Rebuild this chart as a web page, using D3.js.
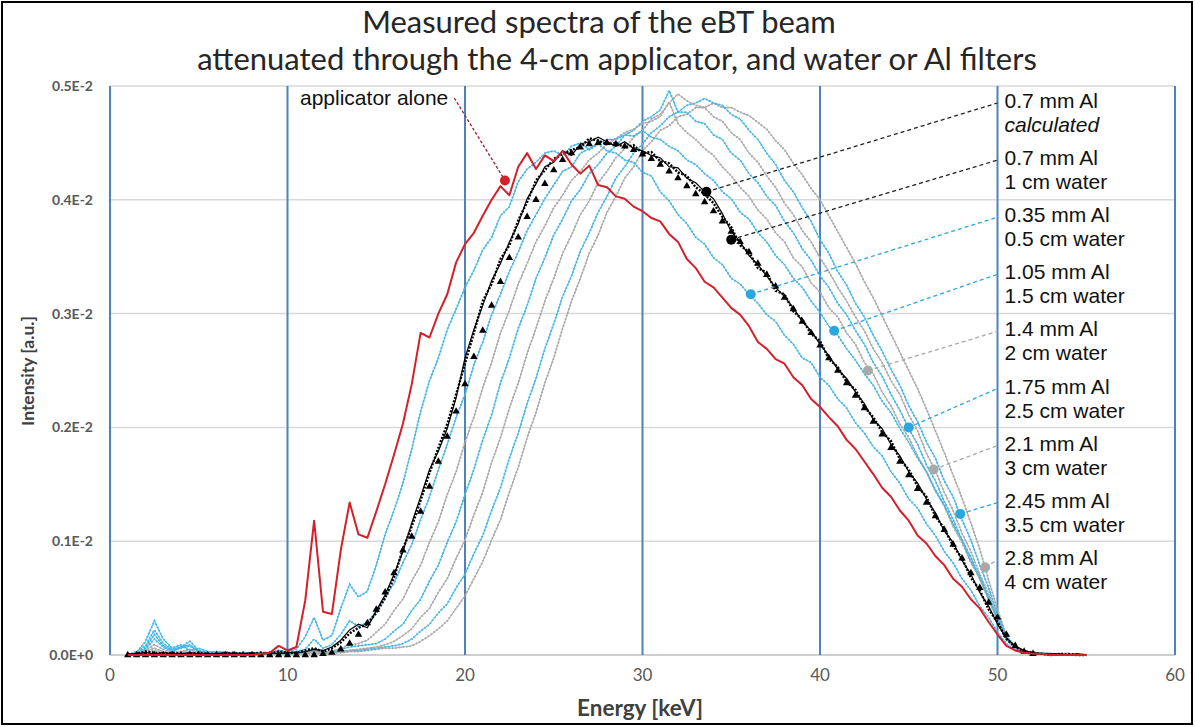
<!DOCTYPE html>
<html><head><meta charset="utf-8">
<script src="https://cdn.jsdelivr.net/npm/d3@7"></script>
<style>body{margin:0;background:#fff}svg{display:block}</style>
</head><body><svg id="c" width="1195" height="727"></svg>
<script>
// ---------- DATA (intensity in units of 1e-5 a.u.) ----------
const energies = [
1,1.5,2,2.5,3,3.5,4,4.5,5,5.5,
6,6.5,7,7.5,8,8.5,9,9.5,10,10.5,
11,11.5,12,12.5,13,13.5,14,14.5,15,15.5,
16,16.5,17,17.5,18,18.5,19,19.5,20,20.5,
21,21.5,22,22.5,23,23.5,24,24.5,25,25.5,
26,26.5,27,27.5,28,28.5,29,29.5,30,30.5,
31,31.5,32,32.5,33,33.5,34,34.5,35,35.5,
36,36.5,37,37.5,38,38.5,39,39.5,40,40.5,
41,41.5,42,42.5,43,43.5,44,44.5,45,45.5,
46,46.5,47,47.5,48,48.5,49,49.5,50,50.5,
51,51.5,52,52.5,53,53.5,54,54.5,55];

const applicatorAlone = [
0,0,0,0,0,0,0,0,0,0,
0,0,0,0,0,1,2,8,4,7,
48,118,38,36,92,134,106,103,126,150,
176,203,238,283,279,300,317,345,361,371,
386,400,412,404,429,441,427,439,434,443,
431,423,430,413,411,403,401,394,390,384,
381,370,363,348,340,328,323,314,305,299,
289,275,269,260,256,244,237,225,218,209,
201,189,181,170,159,147,139,127,118,105,
98,87,79,67,60,49,41,29,18,8,
4,2,1,1,0,0,0,0,0];

const al035 = [
0,2,12,30,14,6,9,4,6,3,
2,3,1,2,1,2,2,4,3,5,
16,33,13,17,41,62,51,56,79,106,
127,151,181,214,241,261,286,304,323,338,
356,367,386,394,416,427,433,441,443,439,
447,450,444,449,443,441,435,433,424,421,
407,399,387,379,367,361,349,343,331,326,
317,309,299,293,281,273,261,257,244,237,
225,217,204,195,183,175,161,151,137,129,
115,105,91,81,67,57,43,33,20,10,
4,2,1,2,1,1,0,1,0];

const al070 = [
1,1,2,1,2,1,1,2,1,1,
1,2,1,1,2,1,2,1,2,2,
3,5,4,7,13,22,27,24,39,53,
71,91,116,139,163,179,199,226,261,286,
307,329,344,363,379,401,414,429,433,443,
439,449,451,455,451,447,451,445,443,439,
437,429,428,419,415,407,401,388,372,363,
351,343,333,323,315,305,293,285,273,263,
251,243,231,221,207,199,185,175,161,151,
137,125,109,99,83,71,55,43,27,15,
8,4,2,1,1,1,0,1,0];

const water10 = [
0,1,3,2,1,2,1,1,2,1,
1,1,2,1,1,2,1,3,2,2,
4,6,3,6,11,19,24,27,37,50,
68,93,113,136,160,182,203,229,256,283,
311,326,348,360,382,398,417,426,436,440,
444,446,454,452,449,450,446,448,441,442,
434,432,424,421,411,405,397,385,376,360,
354,340,336,320,317,302,295,282,276,260,
253,240,233,218,209,196,188,172,163,148,
139,122,111,96,85,68,57,40,29,14,
7,3,2,1,0,1,1,0,0];

const al070calc = [
0,0,0,0,0,0,0,0,0,0,
0,0,0,0,0,0,0,0,0,0,
0,0,1,2,5,10,18,28,40,55,
72,92,104,126,148,170,192,214,238,262,
285,307,328,349,367,385,400,414,426,435,
441,446,449,450,450,449,447,444,440,436,
431,425,419,412,405,398,390,381,372,363,
354,344,334,324,314,304,293,283,272,261,
250,239,228,217,205,194,182,170,158,146,
134,122,110,97,85,72,59,46,33,18,
8,3,1];

const al105 = [
0,3,8,22,10,5,7,12,4,2,
3,2,1,2,2,1,2,3,2,3,
5,14,6,9,18,30,25,29,38,51,
63,81,97,119,139,163,185,209,229,255,
275,299,317,337,354,373,387,401,413,425,
429,441,445,449,453,453,457,456,461,455,
453,447,443,435,431,423,417,407,401,389,
383,371,363,351,343,331,323,311,301,289,
281,269,259,247,237,223,213,199,187,173,
161,145,132,115,101,83,69,50,32,15,
7,3,2,1,1,0,1,0,0];

const al140 = [
0,1,4,9,5,2,3,5,2,1,
1,2,1,1,1,2,1,2,1,2,
2,4,2,3,6,9,10,13,20,27,
39,49,65,79,99,117,141,161,187,209,
235,257,283,303,326,344,363,377,393,404,
417,425,435,441,449,454,459,462,467,469,
473,486,467,459,453,445,439,429,421,411,
403,391,383,371,363,349,341,327,319,305,
297,283,273,257,247,231,219,203,191,175,
161,144,131,113,99,81,67,48,31,14,
6,3,1,1,0,1,0,0,0];

const al175 = [
0,2,5,14,7,3,6,8,3,2,
2,1,2,1,2,1,1,2,1,2,
2,5,2,3,5,7,8,9,10,14,
21,27,39,49,65,79,99,117,141,163,
189,211,239,261,287,307,331,349,369,383,
399,409,423,431,441,447,457,461,469,473,
479,496,477,477,469,467,457,453,441,435,
423,415,403,395,381,371,357,347,333,323,
309,299,285,273,257,245,229,215,199,185,
167,153,135,119,101,86,67,51,31,14,
6,3,1,1,1,0,0,0,0];

const al210 = [
0,1,3,6,3,1,2,3,1,1,
1,1,1,0,1,1,1,1,2,1,
2,2,2,2,3,4,5,6,7,9,
12,17,23,33,41,55,67,85,101,123,
143,169,191,217,239,265,287,311,331,353,
369,387,399,415,425,437,445,455,461,471,
475,485,493,487,483,481,473,469,459,453,
441,433,421,411,397,387,373,363,349,337,
323,311,297,285,269,257,241,229,211,197,
177,162,143,127,107,91,71,54,33,15,
6,3,1,1,0,0,1,0,0];

const al245 = [
0,2,6,18,8,4,7,9,3,2,
2,1,1,2,1,1,2,1,1,2,
2,3,2,2,3,4,4,5,6,7,
8,10,14,21,27,37,45,59,71,89,
105,127,147,173,195,221,243,269,291,315,
333,355,371,389,403,419,429,441,449,459,
465,473,477,483,485,489,485,483,475,471,
461,453,441,431,417,407,393,381,365,353,
337,325,309,297,281,267,251,237,219,205,
187,173,153,139,119,101,79,59,36,16,
7,3,2,1,1,0,0,1,0];

const al280 = [
0,1,2,4,2,1,1,2,1,1,
1,0,1,1,0,1,1,1,1,1,
1,2,1,2,2,3,3,4,5,6,
6,7,8,12,17,23,30,41,52,67,
82,101,119,143,165,191,213,239,261,287,
311,331,353,369,389,403,419,429,443,451,
461,465,473,475,481,481,485,481,481,477,
474,468,462,452,444,432,422,410,400,386,
372,358,344,328,314,298,282,266,250,234,
216,197,178,158,138,116,93,66,40,17,
7,3,2,1,1,0,1,0,0];

const xTicks = [0,10,20,30,40,50,60];
const yTicks = [0,100,200,300,400,500];
const yTickLabels = ["0.0E+0","0.1E-2","0.2E-2","0.3E-2","0.4E-2","0.5E-2"];

const labelLine1 = ["0.7 mm Al","0.7 mm Al","0.35 mm Al","1.05 mm Al","1.4 mm Al","1.75 mm Al","2.1 mm Al","2.45 mm Al","2.8 mm Al"];
const labelLine2 = ["calculated","1 cm water","0.5 cm water","1.5 cm water","2 cm water","2.5 cm water","3 cm water","3.5 cm water","4 cm water"];
const labelE = [33.6,35.0,36.1,40.8,42.7,45.0,46.4,47.9,49.3];
const labelI = [407,365,317,285,250,200,163,124,77];
const applicatorLabel = "applicator alone";
const applicatorE = 22.25, applicatorI = 417;

// ---------- STYLE ----------
const BLUE="#45b6e6", GRAY="#a9a9a9", BLACK="#000", RED="#d3202a";
const DOTBLUE="#29a8e0";
const labelColors=[BLACK,BLACK,DOTBLUE,DOTBLUE,GRAY,DOTBLUE,GRAY,DOTBLUE,GRAY];
const SANS="Lato, 'Open Sans', sans-serif", ARIAL="'Liberation Sans', Arial, sans-serif";

const svg=d3.select("#c");
const x=d3.scaleLinear().domain([0,60]).range([110,1175]);
const y=d3.scaleLinear().domain([0,500]).range([655,86]);
function fit(sel,target){const w=sel.node().getComputedTextLength();sel.attr("font-size",parseFloat(sel.attr("font-size"))*target/w);}

svg.append("rect").attr("x",2).attr("y",2).attr("width",1190).attr("height",722)
  .attr("fill","#fff").attr("stroke","#000").attr("stroke-width",2);

// horizontal grid
svg.append("g").selectAll("line").data(yTicks).join("line")
  .attr("x1",x(0)).attr("x2",x(60)).attr("y1",d=>y(d)).attr("y2",d=>y(d))
  .attr("stroke",d=>d===0?"#bfbfbf":"#d9d9d9").attr("stroke-width",1.5);
// vertical blue grid
svg.append("g").selectAll("line").data(xTicks).join("line")
  .attr("x1",d=>x(d)).attr("x2",d=>x(d)).attr("y1",y(0)).attr("y2",y(500))
  .attr("stroke","#4f81bd").attr("stroke-width",2);

// tick labels
svg.append("g").selectAll("text").data(yTicks).join("text")
  .attr("x",93).attr("y",d=>y(d)).attr("dy","0.35em").attr("text-anchor","end")
  .attr("font-family",SANS).attr("font-size",14).attr("font-weight",700)
  .attr("fill","#595959").text((d,i)=>yTickLabels[i]);
svg.append("g").selectAll("text").data(xTicks).join("text")
  .attr("x",d=>x(d)).attr("y",681).attr("text-anchor","middle")
  .attr("font-family",SANS).attr("font-size",17)
  .attr("fill","#595959").text(d=>d);

// axis titles
const xt=svg.append("text").attr("x",640).attr("y",716).attr("text-anchor","middle")
  .attr("font-family",SANS).attr("font-weight",700).attr("font-size",20)
  .attr("fill","#404040").text("Energy [keV]");
fit(xt,126);
const yt=svg.append("text").attr("transform","translate(34,371) rotate(-90)").attr("text-anchor","middle")
  .attr("font-family",SANS).attr("font-weight",700).attr("font-size",20)
  .attr("fill","#404040").text("Intensity [a.u.]");
fit(yt,110);

// title
const t2=svg.append("text").attr("x",617).attr("y",70).attr("text-anchor","middle")
  .attr("font-family",SANS).attr("font-size",26).attr("fill","#262626")
  .text("attenuated through the 4-cm applicator, and water or Al filters");
fit(t2,840);
svg.append("text").attr("x",599).attr("y",33).attr("text-anchor","middle")
  .attr("font-family",SANS).attr("font-size",t2.attr("font-size")).attr("fill","#262626")
  .text("Measured spectra of the eBT beam");

// ---------- SERIES ----------
const line=d3.line().x((d,i)=>x(energies[i])).y(d=>y(d));
const plot=svg.append("g");
function pair(vals,color){
  plot.append("path").datum(vals).attr("d",line).attr("fill","none")
    .attr("stroke",color).attr("stroke-width",1).attr("stroke-linejoin","round");
  plot.append("path").datum(vals).attr("d",line).attr("fill","none")
    .attr("stroke",color).attr("stroke-width",2).attr("stroke-dasharray","1.5,2");
}
pair(al280,GRAY); pair(al245,BLUE); pair(al210,GRAY); pair(al175,BLUE);
pair(al140,GRAY); pair(al105,BLUE); pair(al035,BLUE);

plot.append("path").datum(water10).attr("d",line).attr("fill","none")
  .attr("stroke",BLACK).attr("stroke-width",2.4).attr("stroke-dasharray","2,1.5");
plot.append("path").datum(al070).attr("d",line).attr("fill","none")
  .attr("stroke",BLACK).attr("stroke-width",1.2);
plot.append("g").selectAll("path").data(al070calc).join("path")
  .attr("transform",(d,i)=>`translate(${x(energies[i])},${y(d)})`)
  .attr("d",d3.symbol(d3.symbolTriangle,24)).attr("fill",BLACK);

plot.append("path").datum(applicatorAlone).attr("d",line).attr("fill","none")
  .attr("stroke",RED).attr("stroke-width",2).attr("stroke-linejoin","round");

// ---------- ANNOTATIONS ----------
const labX=x(50)+7, top0=108, rowH=57.1, lh=24;
const ann=svg.append("g");
labelE.forEach((e,i)=>{
  const by=top0+i*rowH;
  ann.append("line").attr("x1",x(e)).attr("y1",y(labelI[i])).attr("x2",x(50)).attr("y2",by-5)
    .attr("stroke",labelColors[i]===BLACK?"#222":labelColors[i]).attr("stroke-width",1.3).attr("stroke-dasharray","4,3");
  ann.append("circle").attr("cx",x(e)).attr("cy",y(labelI[i])).attr("r",5).attr("fill",labelColors[i]);
  ann.append("text").attr("x",labX).attr("y",by).attr("font-family",ARIAL)
    .attr("font-size",21).attr("fill","#111").text(labelLine1[i]);
  ann.append("text").attr("x",labX).attr("y",by+lh).attr("font-family",ARIAL)
    .attr("font-size",21).attr("fill","#111").attr("font-style",i===0?"italic":"normal").text(labelLine2[i]);
});
const at=ann.append("text").attr("x",300).attr("y",105).attr("font-family",ARIAL)
  .attr("font-size",21).attr("fill","#111").text(applicatorLabel);
const atEnd=300+at.node().getComputedTextLength();
ann.append("line").attr("x1",atEnd+6).attr("y1",98).attr("x2",x(applicatorE)).attr("y2",y(applicatorI))
  .attr("stroke","#a0202a").attr("stroke-width",1.3).attr("stroke-dasharray","3,2");
ann.append("circle").attr("cx",x(applicatorE)).attr("cy",y(applicatorI)).attr("r",5).attr("fill",RED);
</script></body></html>
